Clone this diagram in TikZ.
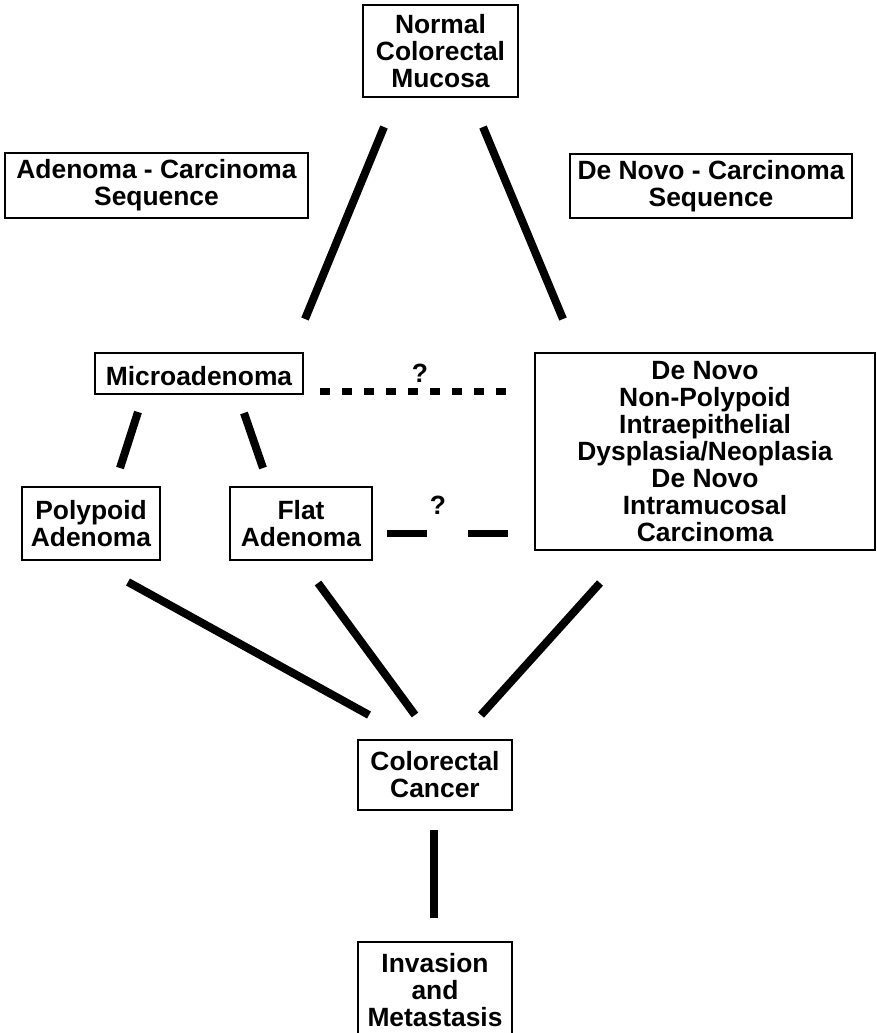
\documentclass[tikz,border=0pt]{standalone}
\usepackage{fontspec}
\setmainfont{Liberation Sans}
\begin{document}
\begin{tikzpicture}[x=1pt,y=-1pt,
  box/.style={draw, line width=2pt, align=center, inner sep=0pt,
    font=\bfseries\fontsize{26.4}{27}\selectfont,
    execute at begin node={\rule{0pt}{25pt}}},
  conn/.style={line width=8pt},
  qdash/.style={line width=7pt, dash pattern=on 10pt off 12pt},
  gapline/.style={line width=7pt},
  qmark/.style={inner sep=0pt, font=\bfseries\fontsize{26.4}{27}\selectfont}]
\useasboundingbox (0,0) rectangle (876,1033);

% boxes
\node[box, minimum width=155pt, minimum height=92pt] (normal) at (440.5,51) {Normal\\Colorectal\\Mucosa};
\node[box, minimum width=303pt, minimum height=65pt] (adseq) at (156.5,185.5) {Adenoma - Carcinoma\\Sequence};
\node[box, minimum width=282pt, minimum height=64pt] (dnseq) at (711,186) {De Novo - Carcinoma\\Sequence};
\node[box, minimum width=208pt, minimum height=41pt] (micro) at (199,373.5) {Microadenoma};
\node[box, minimum width=340pt, minimum height=197pt] (denovo) at (705,451.5) {De Novo\\Non-Polypoid\\Intraepithelial\\Dysplasia/Neoplasia\\De Novo\\Intramucosal\\Carcinoma};
\node[box, minimum width=138pt, minimum height=73pt] (polyp) at (91,523.5) {Polypoid\\Adenoma};
\node[box, minimum width=142pt, minimum height=73pt] (flat) at (301,523.5) {Flat\\Adenoma};
\node[box, minimum width=154pt, minimum height=70pt] (cancer) at (435,775) {Colorectal\\Cancer};
\node[box, minimum width=154pt, minimum height=96pt] (invasion) at (435,990) {Invasion\\and\\Metastasis};

% connector end points
\coordinate (n1) at (384,127); \coordinate (m1) at (305,319);
\coordinate (n2) at (483,127); \coordinate (d1) at (563,319);
\coordinate (m2) at (138,412); \coordinate (p1) at (120,468);
\coordinate (m3) at (244,413); \coordinate (f1) at (263,468);
\coordinate (p2) at (128,582); \coordinate (c1) at (369,715);
\coordinate (f2) at (318,583); \coordinate (c2) at (415,715);
\coordinate (d2) at (600,583); \coordinate (c3) at (481,715);
\coordinate (c4) at (433.5,830); \coordinate (i1) at (433.5,918);
\coordinate (q1) at (320,391); \coordinate (q2) at (506,391);
\coordinate (g1) at (387,533.5); \coordinate (g2) at (427,533.5);
\coordinate (g3) at (468,533.5); \coordinate (g4) at (508,533.5);

% connectors
\draw[conn] (n1) -- (m1);
\draw[conn] (n2) -- (d1);
\draw[conn] (m2) -- (p1);
\draw[conn] (m3) -- (f1);
\draw[conn] (p2) -- (c1);
\draw[conn] (f2) -- (c2);
\draw[conn] (d2) -- (c3);
\draw[conn] (c4) -- (i1);
\draw[qdash] (q1) -- (q2);
\draw[gapline] (g1) -- (g2);
\draw[gapline] (g3) -- (g4);

% question marks
\node[qmark] (qa) at (420,373) {?};
\node[qmark] (qb) at (438,505) {?};
\end{tikzpicture}
\end{document}
